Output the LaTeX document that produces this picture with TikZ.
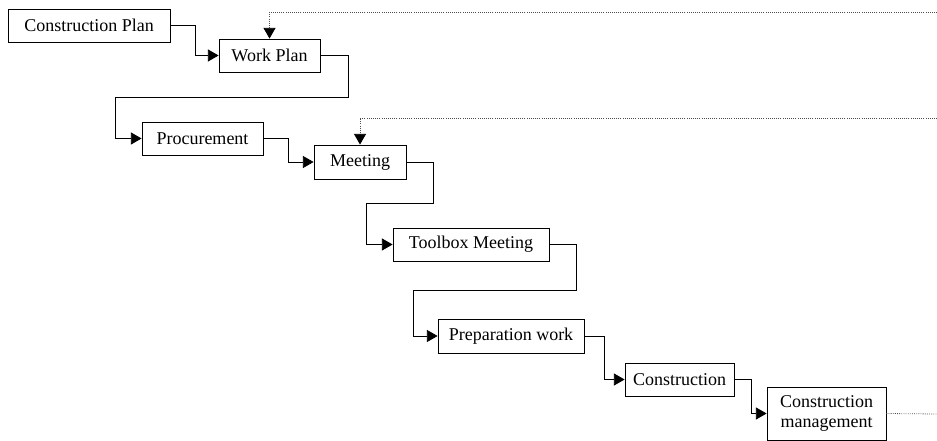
\documentclass[tikz,border=0pt]{standalone}
\usepackage{fontspec}
\setmainfont{Liberation Serif}
\usetikzlibrary{arrows.meta}

\begin{document}
\begin{tikzpicture}[x=0.75pt, y=-0.75pt,
    stage/.style={draw, line width=0.65pt, inner sep=0pt, align=center, font=\fontsize{13.5}{15.5}\selectfont},
    flow/.style={line width=0.6pt, -{Triangle[length=8pt,width=9pt]}},
    feedback/.style={densely dotted, line width=0.6pt, black!70, -{Triangle[length=8pt,width=9pt,color=black]}}]
    \useasboundingbox (0,0) rectangle (937,441);
    \node [stage, minimum width=121.5pt, minimum height=24.75pt] (cplan) at (89,25.5) {Construction Plan};
    \node [stage, minimum width=75.75pt, minimum height=24.75pt] (wplan) at (269.5,55.5) {Work Plan};
    \node [stage, minimum width=90.75pt, minimum height=24.75pt] (proc) at (202.5,138.5) {Procurement};
    \node [stage, minimum width=69pt, minimum height=25.5pt] (meet) at (360,162) {Meeting};
    \node [stage, minimum width=117pt, minimum height=24.75pt] (tbox) at (471,244.5) {Toolbox Meeting};
    \node [stage, minimum width=109.5pt, minimum height=25.5pt] (prep) at (511,336) {Preparation work};
    \node [stage, minimum width=81.75pt, minimum height=24.75pt] (cons) at (679.5,379.5) {Construction};
    \node [stage, minimum width=89.25pt, minimum height=39.75pt] (cman) at (826.5,413.5) {Construction\\management};
    \coordinate (fbtop) at (937,12);
    \coordinate (fbmid) at (937,118);
    \coordinate (fbend) at (937,414);
    \draw [flow] (cplan.east) -- ++(25,0) |- (wplan.west);
    \draw [flow] (wplan.east) -| (348,97) -| (115,138.5) -- (proc.west);
    \draw [flow] (proc.east) -- ++(25,0) |- (meet.west);
    \draw [flow] (meet.east) -| (433,203) -| (366,244.5) -- (tbox.west);
    \draw [flow] (tbox.east) -| (576,290) -| (413,336) -- (prep.west);
    \draw [flow] (prep.east) -- ++(20,0) |- (cons.west);
    \draw [flow] (cons.east) -- ++(17,0) |- (cman.west);
    \draw [feedback] (fbtop) -| (wplan.north);
    \draw [feedback] (fbmid) -| (meet.north);
    \draw [densely dotted, line width=0.6pt, black!70] (cman.east) -- (fbend);
\end{tikzpicture}
\end{document}
